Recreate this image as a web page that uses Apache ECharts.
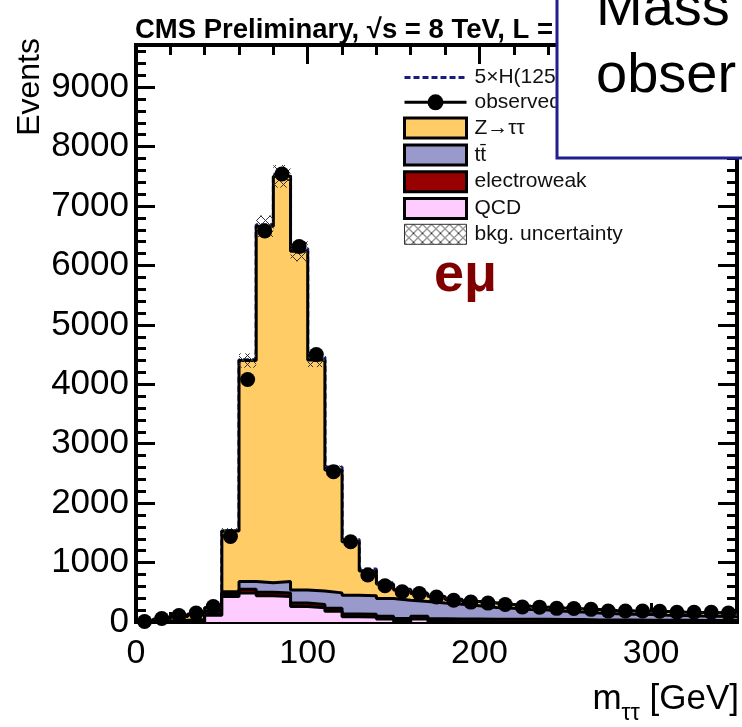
<!DOCTYPE html>
<html><head><meta charset="utf-8">
<script src="https://cdn.jsdelivr.net/npm/echarts@6/dist/echarts.min.js"></script>
<style>html,body{margin:0;padding:0;background:#fff}#c{width:742px;height:727px}</style>
</head><body><div id="c"></div>
<script>
// ---- data (10 GeV bins, left edges) ----
const binLowEdges = [0,10,20,30,40,50,60,70,80,90,100,110,120,130,140,150,160,170,180,190,200,210,220,230,240,250,260,270,280,290,300,310,320,330,340];
const binWidth = 10;
const qcd        = [0,0,0,0,115,430,490,440,430,260,240,180,90,85,50,10,50,10,5,5,0,0,0,5,0,0,0,0,0,0,0,0,0,0,0];
const electroweak= [0,5,8,12,20,35,60,60,60,60,55,50,45,45,45,50,45,45,45,45,45,45,45,40,40,40,35,35,35,30,30,30,25,25,25];
const ttbar      = [2,10,20,30,45,45,130,160,190,220,225,260,315,310,300,305,250,265,250,225,200,185,165,155,140,130,115,105,95,95,85,80,75,70,65];
const ztautau    = [3,30,62,88,60,1020,3720,6000,6820,5700,3890,2070,900,420,245,175,135,110,80,70,75,65,55,50,55,55,60,55,55,55,60,55,60,60,58];
const higgs5x    = [0,0,0,0,1,5,15,25,35,45,50,50,40,30,20,12,8,5,3,2,1,1,0,0,0,0,0,0,0,0,0,0,0,0,0];
const observed   = [8,60,110,150,260,1440,4080,6580,7540,6320,4500,2530,1350,790,610,510,480,420,365,335,318,295,252,250,230,228,213,185,185,185,180,165,165,162,150];
const bkgUnc     = [2,5,8,10,15,50,120,180,190,170,120,75,45,30,25,22,20,18,17,16,15,14,13,12,12,11,11,10,10,10,9,9,9,8,8];
const xTickLabels = ['0','100','200','300'];

const FONT = 'Liberation Sans, Arial, Helvetica, sans-serif';
const X_MAX = 350, Y_MAX = 9710;

// cumulative stack levels (bottom → top: QCD, electroweak, tt, Z→ττ, signal)
function addArr(a,b){ return a.map((v,i)=>v+b[i]); }
const cumQCD = qcd.slice();
const cumEW  = addArr(cumQCD, electroweak);
const cumTT  = addArr(cumEW, ttbar);
const cumZ   = addArr(cumTT, ztautau);
const cumH   = addArr(cumZ, higgs5x);

// step data: one point per bin left edge + closing point at the last right edge
function stepData(vals){
  const d = binLowEdges.map((x,i)=>[x, vals[i]]);
  d.push([binLowEdges[binLowEdges.length-1]+binWidth, vals[vals.length-1]]);
  return d;
}

// hatch pattern
const hc = document.createElement('canvas'); hc.width = 9; hc.height = 9;
const g = hc.getContext('2d'); g.strokeStyle = '#333'; g.lineWidth = 1;
g.beginPath(); g.moveTo(0,0); g.lineTo(9,9); g.moveTo(9,0); g.lineTo(0,9); g.stroke();
const hatch = {image: hc, repeat: 'repeat'};

function stackSeries(name, cum, fill, z){
  return {
    name, type:'line', step:'end', data: stepData(cum),
    symbol:'none', z,
    lineStyle:{color:'#000', width:3},
    itemStyle:{color: fill},
    areaStyle:{color: fill, opacity:1, origin:'start'},
    emphasis:{disabled:true}
  };
}

const tickStyle = {color:'#000', width:3};
function xAx(pos, interval, len, labels){
  return {type:'value', min:0, max:X_MAX, interval, position:pos,
    axisLine:{show:false, onZero:false},
    axisTick:{show:true, inside:true, length:len, lineStyle:tickStyle},
    axisLabel: labels ? {show:true, margin:15, fontSize:34, color:'#000', fontFamily:FONT,
      showMaxLabel:false, formatter:v=> xTickLabels.includes(String(v)) ? String(v) : ''} : {show:false},
    splitLine:{show:false}};
}
function yAx(pos, interval, len, labels){
  return {type:'value', min:0, max:Y_MAX, interval, position:pos,
    axisLine:{show:false, onZero:false},
    axisTick:{show:true, inside:true, length:len, lineStyle:tickStyle},
    axisLabel: labels ? {show:true, margin:7, fontSize:35, color:'#000', fontFamily:FONT, showMaxLabel:false,
      formatter:v=>String(v)} : {show:false},
    splitLine:{show:false}};
}

const chart = echarts.init(document.getElementById('c'), null, {renderer:'canvas'});
chart.setOption({
  animation:false,
  backgroundColor:'#fff',
  title:{text:'CMS Preliminary, √s = 8 TeV, L =', left:135, top:16, padding:0,
    textStyle:{fontFamily:FONT, fontSize:27.5, fontWeight:'bold', color:'#000'}},
  grid:{left:136, right:5, top:45, bottom:105, show:true, borderColor:'#000', borderWidth:4,
    backgroundColor:'rgba(0,0,0,0)', outerBoundsMode:'none'},
  xAxis:[xAx('bottom',100,19,true), xAx('bottom',20,10,false), xAx('top',100,19,false), xAx('top',20,10,false)],
  yAxis:[yAx('left',1000,19,true), yAx('left',200,10,false), yAx('right',1000,19,false), yAx('right',200,10,false)],
  legend:{
    orient:'vertical', left:398, top:62, itemWidth:62, itemHeight:20, itemGap:3.8,
    selectedMode:false,
    textStyle:{fontFamily:FONT, fontSize:21, lineHeight:20, color:'#111', padding:[0,0,0,3]},
    data:[
      {name:'5×H(125 GeV)', lineStyle:{color:'#1a1a80', width:3, type:[6,3], opacity:1}, itemStyle:{color:'rgba(0,0,0,0)', opacity:0, borderWidth:0}},
      {name:'observed', lineStyle:{color:'#000', width:3, type:'solid', opacity:1}, itemStyle:{color:'#000', opacity:1}},
      {name:'Z→ττ', icon:'rect', itemStyle:{color:'#ffcc66', borderColor:'#000', borderWidth:3}},
      {name:'tt\u0304', icon:'rect', itemStyle:{color:'#9999cc', borderColor:'#000', borderWidth:3}},
      {name:'electroweak', icon:'rect', itemStyle:{color:'#990000', borderColor:'#000', borderWidth:3}},
      {name:'QCD', icon:'rect', itemStyle:{color:'#ffccff', borderColor:'#000', borderWidth:3}},
      {name:'bkg. uncertainty', icon:'rect', itemStyle:{color:hatch, borderColor:'#333', borderWidth:1}}
    ]
  },
  series:[
    {name:'5×H(125 GeV)', type:'line', step:'end', data: stepData(cumH), symbol:'none', z:1,
      lineStyle:{color:'#1a1a80', width:3, type:[6,3]}, itemStyle:{color:'#1a1a80'}, emphasis:{disabled:true}},
    stackSeries('Z→ττ', cumZ, '#ffcc66', 2),
    stackSeries('tt\u0304', cumTT, '#9999cc', 3),
    stackSeries('electroweak', cumEW, '#990000', 4),
    stackSeries('QCD', cumQCD, '#ffccff', 5),
    {name:'bkg. uncertainty', type:'custom', z:6, clip:true,
      data: binLowEdges.map((x,i)=>[x, x+binWidth, cumZ[i]-bkgUnc[i], cumZ[i]+bkgUnc[i]]),
      encode:{x:[0,1], y:[2,3]},
      itemStyle:{color:hatch},
      renderItem:function(params, api){
        const p0 = api.coord([api.value(0), api.value(3)]);
        const p1 = api.coord([api.value(1), api.value(2)]);
        return {type:'rect', shape:{x:p0[0], y:p0[1], width:p1[0]-p0[0], height:p1[1]-p0[1]},
          style:{fill:hatch, stroke:null}};
      }},
    {name:'observed', type:'line', z:7, data: binLowEdges.map((x,i)=>[x+binWidth/2, observed[i]]),
      symbol:'circle', symbolSize:15, showSymbol:true,
      lineStyle:{width:0, opacity:0}, itemStyle:{color:'#000'}, emphasis:{disabled:true}}
  ],
  graphic:[
    {type:'text', x:30, y:38, rotation:Math.PI/2, z:50,
      style:{text:'Events', fontFamily:FONT, fontSize:32, fill:'#000', align:'right', verticalAlign:'middle'}},
    {type:'text', x:739, y:725, z:50,
      style:{text:'{m|m}{s|ττ}{m| [GeV]}', align:'right', verticalAlign:'bottom', fill:'#000',
        rich:{m:{fontFamily:FONT, fontSize:35, lineHeight:35, verticalAlign:'bottom', padding:[0,0,8,0], fill:'#000'},
              s:{fontFamily:FONT, fontSize:23, lineHeight:23, verticalAlign:'bottom', fill:'#000'}}}},
    {type:'text', x:434, y:276, z:50,
      style:{text:'eμ', fontFamily:FONT, fontSize:54, fontWeight:'bold', fill:'#800000', verticalAlign:'middle'}},
    {type:'rect', z:100, shape:{x:557, y:-5, width:200, height:163},
      style:{fill:'#fff', stroke:'#1f1f8f', lineWidth:3}},
    {type:'text', x:596, y:10, z:101,
      style:{text:'Mass', fontFamily:FONT, fontSize:56, fill:'#000', verticalAlign:'middle'}},
    {type:'text', x:596, y:77, z:101,
      style:{text:'obser', fontFamily:FONT, fontSize:56, fill:'#000', verticalAlign:'middle'}}
  ]
});
</script></body></html>
